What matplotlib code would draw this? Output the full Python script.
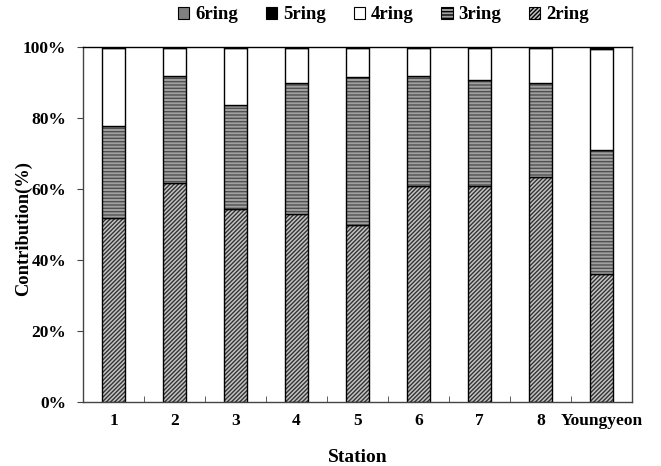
import numpy as np
import matplotlib.pyplot as plt
from matplotlib.patches import Patch

plt.rcParams['font.family'] = ['Liberation Serif', 'DejaVu Serif']
plt.rcParams['font.weight'] = 'bold'
plt.rcParams['hatch.linewidth'] = 1.0

stations = ['1', '2', '3', '4', '5', '6', '7', '8', 'Youngyeon']

# ring contributions (%), bottom to top
ring2 = [51.7, 61.8, 54.3, 53.0, 49.9, 60.9, 60.9, 63.4, 36.2]
ring3 = [26.1, 30.0, 29.4, 36.9, 41.6, 31.0, 29.7, 26.5, 34.8]
ring4 = [22.0, 7.9, 16.0, 9.9, 8.3, 7.9, 9.2, 9.8, 28.4]
ring5 = [0.1, 0.2, 0.2, 0.1, 0.1, 0.1, 0.1, 0.2, 0.4]
ring6 = [0.1, 0.1, 0.1, 0.1, 0.1, 0.1, 0.1, 0.1, 0.2]

series = [
    ('2ring', ring2, '#c4c4c4', '#333333', '////////'),
    ('3ring', ring3, '#a0a0a0', '#505050', '-----'),
    ('4ring', ring4, 'white', None, None),
    ('5ring', ring5, 'black', None, None),
    ('6ring', ring6, '#808080', None, None),
]

fig = plt.figure(figsize=(6.61, 4.66), dpi=100)
ax = fig.add_axes([0.1256, 0.1373, 0.8304, 0.7618])

x = np.arange(len(stations))
width = 0.39
bottom = np.zeros(len(stations))
for name, vals, fc, hc, hatch in series:
    vals = np.array(vals)
    if hatch:
        # hatch colour follows edgecolor, so draw fill and outline separately
        ax.bar(x, vals, width, bottom=bottom, facecolor=fc, edgecolor=hc,
               hatch=hatch, linewidth=0)
    else:
        ax.bar(x, vals, width, bottom=bottom, facecolor=fc, linewidth=0)
    ax.bar(x, vals, width, bottom=bottom, facecolor='none',
           edgecolor='black', linewidth=1.0)
    bottom += vals

ax.set_xlim(-0.5, len(stations) - 0.5)
ax.set_ylim(0, 100)
ax.set_yticks(np.arange(0, 101, 20))
ax.set_yticklabels([f'{v}%' for v in range(0, 101, 20)], fontsize=12.5)
ax.set_xticks(x)
ax.set_xticklabels(stations, fontsize=12.5)
ax.tick_params(axis='x', which='major', length=0, pad=8)
ax.set_xticks(np.arange(0.5, len(stations) - 0.5, 1), minor=True)
ax.tick_params(axis='x', which='minor', direction='in', length=4, color='#444444')
ax.tick_params(axis='y', direction='out', length=4, color='#444444', pad=8)
for sp in ax.spines.values():
    sp.set_color('#444444')
    sp.set_linewidth(1.0)
ax.spines['top'].set_color('black')

ax.set_xlabel('Station', fontsize=14, fontweight='bold', va='center')
ax.xaxis.set_label_coords(0.5, -0.155)
ax.set_ylabel('Contribution(%)', fontsize=13.3, fontweight='bold', va='center')
ax.yaxis.set_label_coords(-0.109, 0.489)

handles = []
for name, vals, fc, hc, hatch in reversed(series):
    handles.append(Patch(facecolor=fc, edgecolor='black', hatch=hatch,
                         linewidth=0.8, label=name))
fig.legend(handles=handles, loc='center', bbox_to_anchor=(0.58, 0.968),
           ncol=5, frameon=False, fontsize=13.5, handlelength=0.6,
           handleheight=0.6, handletextpad=0.3, columnspacing=1.5)

fig.savefig('out.png', dpi=100)
